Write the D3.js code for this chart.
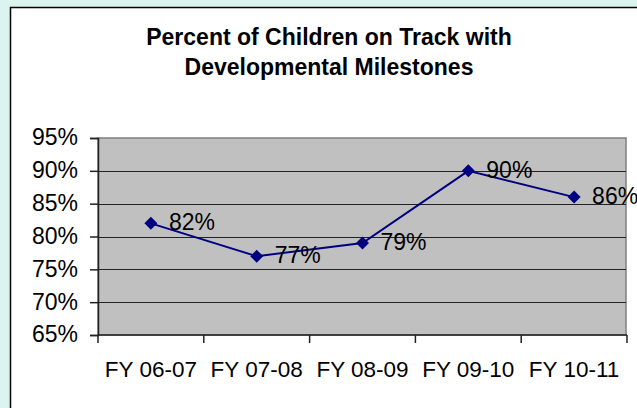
<!DOCTYPE html>
<html>
<head>
<meta charset="utf-8">
<script src="https://d3js.org/d3.v7.min.js"></script>
<style>
    body { margin: 0; background: #dcf4f0; overflow: hidden; }
    svg { display: block; }
    text { font-family: "Liberation Sans", Arial, sans-serif; fill: #000; }
</style>
</head>
<body>
<svg></svg>
<script>
const categories = ['FY 06-07', 'FY 07-08', 'FY 08-09', 'FY 09-10', 'FY 10-11'];
const values = [82, 77, 79, 90, 86];
const yTicks = [65, 70, 75, 80, 85, 90, 95];
const titleLines = ['Percent of Children on Track with', 'Developmental Milestones'];

const width = 637, height = 408;
const svg = d3.select('svg')
    .attr('width', width)
    .attr('height', height);

// white chart box, it runs out past the right and bottom edge
svg.append('rect')
    .attr('x', 10.5)
    .attr('y', 7.5)
    .attr('width', 700)
    .attr('height', 500)
    .attr('fill', '#fff')
    .attr('stroke', '#000')
    .attr('stroke-width', 1.5);

const plot = { left: 98, right: 627, top: 138, bottom: 335 };

const x = d3.scaleBand()
    .domain(categories)
    .range([plot.left, plot.right]);

const y = d3.scaleLinear()
    .domain([65, 95])
    .range([plot.bottom, plot.top]);

svg.append('g')
    .attr('class', 'title')
    .selectAll('text')
    .data(titleLines)
    .enter()
    .append('text')
    .attr('x', 329)
    .attr('y', (d, i) => 45 + i * 30)
    .attr('text-anchor', 'middle')
    .attr('font-size', '23px')
    .attr('font-weight', 'bold')
    .text(d => d);

// plot area
svg.append('rect')
    .attr('x', plot.left)
    .attr('y', plot.top)
    .attr('width', plot.right - plot.left - 1)
    .attr('height', plot.bottom - plot.top)
    .attr('fill', '#c0c0c0')
    .attr('stroke', '#808080')
    .attr('stroke-width', 1.5);

svg.append('g')
    .attr('class', 'grid')
    .selectAll('line')
    .data(yTicks.slice(1, -1))
    .enter()
    .append('line')
    .attr('x1', plot.left)
    .attr('x2', plot.right - 1)
    .attr('y1', d => Math.round(y(d)) + 0.5)
    .attr('y2', d => Math.round(y(d)) + 0.5)
    .attr('stroke', '#222')
    .attr('stroke-width', 1);

// y axis
const yAxis = svg.append('g')
    .attr('transform', `translate(${plot.left},0)`)
    .call(d3.axisLeft(y).tickValues(yTicks).tickFormat(d => d + '%').tickSize(8).tickPadding(12));
yAxis.select('.domain').attr('stroke', '#222').attr('stroke-width', 1.5);
yAxis.selectAll('.tick line').attr('stroke', '#222').attr('stroke-width', 1.5);
yAxis.selectAll('.tick text')
    .attr('font-size', '23px')
    .attr('font-family', '"Liberation Sans", Arial, sans-serif')
    .attr('fill', '#000')
    .attr('dy', '0.3em');

// x axis, ticks at band boundaries
const xAxis = svg.append('g')
    .attr('transform', `translate(0,${plot.bottom})`);
xAxis.append('line')
    .attr('x1', plot.left)
    .attr('x2', plot.right)
    .attr('stroke', '#222')
    .attr('stroke-width', 1.5);
xAxis.selectAll('.tk')
    .data(d3.range(categories.length + 1))
    .enter()
    .append('line')
    .attr('class', 'tk')
    .attr('x1', i => plot.left + i * x.bandwidth())
    .attr('x2', i => plot.left + i * x.bandwidth())
    .attr('y1', 0)
    .attr('y2', 8)
    .attr('stroke', '#222')
    .attr('stroke-width', 1.5);
xAxis.selectAll('text')
    .data(categories)
    .enter()
    .append('text')
    .attr('x', d => x(d) + x.bandwidth() / 2)
    .attr('y', 41.5)
    .attr('text-anchor', 'middle')
    .attr('font-size', '22.5px')
    .text(d => d);

// series
const pts = categories.map((c, i) => ({ cat: c, value: values[i] }));

svg.append('path')
    .datum(pts)
    .attr('fill', 'none')
    .attr('stroke', '#000080')
    .attr('stroke-width', 2)
    .attr('d', d3.line()
        .x(d => x(d.cat) + x.bandwidth() / 2)
        .y(d => y(d.value)));

svg.append('g')
    .selectAll('path')
    .data(pts)
    .enter()
    .append('path')
    .attr('fill', '#000080')
    .attr('transform', d => `translate(${x(d.cat) + x.bandwidth() / 2},${y(d.value)})`)
    .attr('d', 'M0,-6.5L6.5,0L0,6.5L-6.5,0Z');

svg.append('g')
    .selectAll('text')
    .data(pts)
    .enter()
    .append('text')
    .attr('x', d => x(d.cat) + x.bandwidth() / 2 + 18)
    .attr('y', d => y(d.value) + 7)
    .attr('font-size', '23px')
    .text(d => d.value + '%');
</script>
</body>
</html>
